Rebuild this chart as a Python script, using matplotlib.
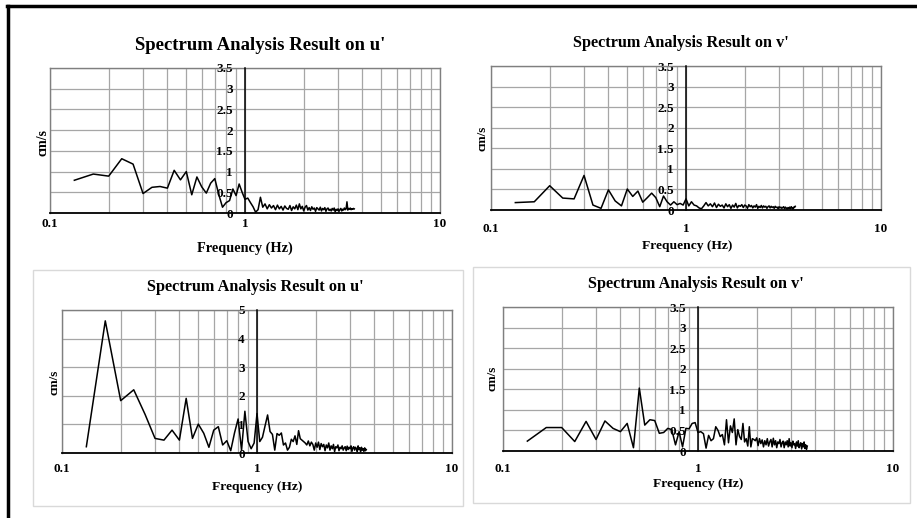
import matplotlib
matplotlib.use("Agg")
import matplotlib.pyplot as plt
import numpy as np
from matplotlib.lines import Line2D
from matplotlib.patches import Rectangle
from matplotlib.ticker import LogLocator, NullFormatter, FuncFormatter

plt.rcParams['font.family'] = ['Liberation Serif', 'DejaVu Serif']
plt.rcParams['font.weight'] = 'bold'

# frequencies of the spectrum bins (Hz)
freq = [0.1333, 0.1667, 0.2, 0.2333, 0.2667, 0.3, 0.3333, 0.3667, 0.4, 0.4333,
        0.4667, 0.5, 0.5333, 0.5667, 0.6, 0.6333, 0.6667, 0.7, 0.7333, 0.7667,
        0.8, 0.8333, 0.8667, 0.9, 0.9333, 0.9667, 1.0, 1.0333, 1.0667, 1.1,
        1.1333, 1.1667, 1.2, 1.2333, 1.2667, 1.3, 1.3333, 1.3667, 1.4, 1.4333,
        1.4667, 1.5, 1.5333, 1.5667, 1.6, 1.6333, 1.6667, 1.7, 1.7333, 1.7667,
        1.8, 1.8333, 1.8667, 1.9, 1.9333, 1.9667, 2.0, 2.0333, 2.0667, 2.1,
        2.1333, 2.1667, 2.2, 2.2333, 2.2667, 2.3, 2.3333, 2.3667, 2.4, 2.4333,
        2.4667, 2.5, 2.5333, 2.5667, 2.6, 2.6333, 2.6667, 2.7, 2.7333, 2.7667,
        2.8, 2.8333, 2.8667, 2.9, 2.9333, 2.9667, 3.0, 3.0333, 3.0667, 3.1,
        3.1333, 3.1667, 3.2, 3.2333, 3.2667, 3.3, 3.3333, 3.3667, 3.4, 3.4333,
        3.4667, 3.5, 3.5333, 3.5667, 3.6, 3.6333]

# top left: u'
u_top = [0.79, 0.94, 0.89, 1.31, 1.18, 0.47, 0.62, 0.64, 0.60, 1.03,
         0.80, 1.00, 0.44, 0.87, 0.63, 0.48, 0.72, 0.83, 0.45, 0.14,
         0.25, 0.30, 0.58, 0.42, 0.70, 0.50, 0.33, 0.36, 0.25, 0.15,
         0.02, 0.08, 0.38, 0.14, 0.22, 0.10, 0.20, 0.12, 0.18, 0.08,
         0.19, 0.10, 0.16, 0.07, 0.17, 0.11, 0.09, 0.18, 0.06, 0.15,
         0.10, 0.19, 0.08, 0.22, 0.10, 0.16, 0.05, 0.14, 0.18, 0.07,
         0.13, 0.06, 0.15, 0.09, 0.12, 0.04, 0.13, 0.10, 0.07, 0.14,
         0.05, 0.11, 0.08, 0.13, 0.04, 0.10, 0.12, 0.06, 0.09, 0.05,
         0.11, 0.07, 0.12, 0.03, 0.09, 0.06, 0.10, 0.04, 0.08, 0.11,
         0.05, 0.09, 0.07, 0.12, 0.08, 0.10, 0.27, 0.07, 0.11, 0.09,
         0.12, 0.08, 0.10, 0.09, 0.11, 0.10]

# top right: v'
v_top = [0.18, 0.20, 0.59, 0.29, 0.27, 0.84, 0.12, 0.04, 0.49, 0.22,
         0.10, 0.51, 0.33, 0.46, 0.19, 0.30, 0.41, 0.30, 0.08, 0.34,
         0.20, 0.12, 0.20, 0.13, 0.16, 0.12, 0.27, 0.10, 0.20, 0.12,
         0.10, 0.05, 0.03, 0.10, 0.18, 0.10, 0.15, 0.08, 0.17, 0.06,
         0.14, 0.09, 0.12, 0.05, 0.15, 0.08, 0.13, 0.04, 0.12, 0.07,
         0.16, 0.05, 0.11, 0.09, 0.13, 0.06, 0.12, 0.10, 0.04, 0.13,
         0.08, 0.11, 0.05, 0.10, 0.07, 0.13, 0.04, 0.09, 0.06, 0.11,
         0.05, 0.10, 0.07, 0.09, 0.04, 0.08, 0.10, 0.05, 0.09, 0.06,
         0.08, 0.04, 0.09, 0.06, 0.07, 0.03, 0.08, 0.05, 0.07, 0.04,
         0.06, 0.08, 0.03, 0.07, 0.05, 0.02, 0.06, 0.04, 0.07, 0.03,
         0.08, 0.05, 0.02, 0.07, 0.06, 0.09]

# bottom left: u'
u_bot = [0.22, 4.62, 1.83, 2.21, 1.35, 0.51, 0.45, 0.80, 0.45, 1.91,
         0.51, 1.01, 0.69, 0.20, 0.80, 0.92, 0.28, 0.43, 0.08, 0.70,
         1.19, 0.10, 1.46, 0.40, 0.15, 0.35, 1.38, 0.40, 0.55, 0.95,
         1.33, 0.75, 0.65, 0.10, 0.68, 0.62, 0.70, 0.28, 0.35, 0.10,
         0.20, 0.48, 0.40, 0.60, 0.30, 0.78, 0.50, 0.45, 0.40, 0.35,
         0.28, 0.42, 0.25, 0.38, 0.30, 0.10, 0.35, 0.20, 0.38, 0.12,
         0.33, 0.22, 0.30, 0.08, 0.28, 0.18, 0.35, 0.10, 0.25, 0.15,
         0.30, 0.05, 0.22, 0.18, 0.28, 0.08, 0.20, 0.15, 0.25, 0.10,
         0.18, 0.22, 0.08, 0.24, 0.12, 0.20, 0.15, 0.25, 0.06, 0.18,
         0.22, 0.10, 0.20, 0.15, 0.05, 0.25, 0.12, 0.18, 0.04, 0.20,
         0.10, 0.15, 0.06, 0.18, 0.08, 0.12]

# bottom right: v'
v_bot = [0.24, 0.57, 0.57, 0.23, 0.72, 0.28, 0.73, 0.55, 0.47, 0.67,
         0.08, 1.53, 0.63, 0.76, 0.74, 0.43, 0.45, 0.55, 0.52, 0.15,
         0.47, 0.10, 0.55, 0.54, 0.67, 0.69, 0.45, 0.47, 0.42, 0.07,
         0.38, 0.25, 0.30, 0.59, 0.50, 0.35, 0.40, 0.15, 0.76, 0.20,
         0.61, 0.45, 0.78, 0.15, 0.52, 0.35, 0.28, 0.67, 0.22, 0.30,
         0.12, 0.59, 0.10, 0.30, 0.28, 0.25, 0.32, 0.13, 0.30, 0.18,
         0.27, 0.10, 0.25, 0.15, 0.30, 0.12, 0.22, 0.28, 0.10, 0.31,
         0.15, 0.25, 0.08, 0.22, 0.18, 0.28, 0.10, 0.20, 0.24, 0.08,
         0.22, 0.15, 0.25, 0.10, 0.30, 0.12, 0.20, 0.08, 0.24, 0.15,
         0.18, 0.06, 0.22, 0.12, 0.25, 0.08, 0.15, 0.20, 0.05, 0.18,
         0.10, 0.22, 0.06, 0.15, 0.04, 0.12]

titles = ["Spectrum Analysis Result on u'", "Spectrum Analysis Result on v'",
          "Spectrum Analysis Result on u'", "Spectrum Analysis Result on v'"]
series = [u_top, v_top, u_bot, v_bot]
y_max = [3.5, 3.5, 5, 3.5]
y_step = [0.5, 0.5, 1, 0.5]
x_ticks = [0.1, 1, 10]
x_tick_labels = ['0.1', '1', '10']

W, H = 917, 518
fig = plt.figure(figsize=(W / 100, H / 100), dpi=100)

# layout in pixels: plot box (left, top, right, bottom), title xy, xlabel xy, ylabel xy,
# x tick label pad, title size, label size
layout = [
    dict(box=(50, 68, 440, 213), title=(260, 46), xl=(245, 248), yl=(43, 142), pad=5, ts=13.5, ls=10.3),
    dict(box=(491, 66, 881, 210), title=(681, 43), xl=(687, 246), yl=(483, 138), pad=13, ts=11.7, ls=9.7),
    dict(box=(62, 310, 452, 453), title=(255, 287), xl=(257, 487), yl=(54, 382), pad=10, ts=11.7, ls=9.7),
    dict(box=(503, 307, 893, 451), title=(696, 284), xl=(698, 484), yl=(493, 378), pad=12, ts=11.7, ls=9.7),
]

# frame of the page and boxes of the lower charts
fig.add_artist(Line2D([7 / W, 1], [1 - 6 / H, 1 - 6 / H], color='black', lw=2.5,
                      transform=fig.transFigure))
fig.add_artist(Line2D([7.5 / W, 7.5 / W], [0, 1 - 6 / H], color='black', lw=2.5,
                      transform=fig.transFigure))
for (x0, y0, x1, y1) in [(33, 270, 463, 506), (473, 267, 910, 503)]:
    fig.add_artist(Rectangle((x0 / W, 1 - y1 / H), (x1 - x0) / W, (y1 - y0) / H,
                             fill=False, edgecolor='#d9d9d9', lw=1, transform=fig.transFigure))

for i in range(4):
    L = layout[i]
    l, t, r, b = L['box']
    ax = fig.add_axes([l / W, 1 - b / H, (r - l) / W, (b - t) / H])
    ax.plot(freq, series[i], color='black', lw=1.1, zorder=3)
    ax.set_xscale('log')
    ax.set_xlim(0.1, 10)
    ax.set_ylim(0, y_max[i])
    ax.set_xticks(x_ticks)
    ax.set_xticklabels(x_tick_labels)
    ax.xaxis.set_minor_locator(LogLocator(base=10, subs=np.arange(2, 10)))
    ax.xaxis.set_minor_formatter(NullFormatter())
    ax.set_yticks(np.arange(0, y_max[i] + y_step[i] / 2, y_step[i]))
    ax.yaxis.set_major_formatter(FuncFormatter(lambda v, p: '%g' % v))
    ax.grid(which='both', color='#a6a6a6', lw=0.9, zorder=0)
    ax.set_axisbelow(True)
    ax.tick_params(which='both', length=0)
    ax.tick_params(axis='x', labelsize=9.5, pad=L['pad'] * 0.72)
    ax.tick_params(axis='y', labelsize=9.5, pad=12 * 0.72)
    ax.spines['left'].set_position(('data', 1))
    ax.spines['left'].set_color('black')
    ax.spines['left'].set_linewidth(1.1)
    ax.spines['left'].set_zorder(4)
    ax.spines['bottom'].set_color('black')
    ax.spines['bottom'].set_linewidth(1.3)
    for s in ['top', 'right']:
        ax.spines[s].set_color('#7f7f7f')
        ax.spines[s].set_linewidth(1.0)
    ax.plot([0, 0], [0, 1], transform=ax.transAxes, color='#7f7f7f', lw=1.0, clip_on=False)

    fig.text(L['title'][0] / W, 1 - L['title'][1] / H, titles[i], fontsize=L['ts'],
             fontweight='bold', ha='center', va='center')
    fig.text(L['xl'][0] / W, 1 - L['xl'][1] / H, 'Frequency (Hz)', fontsize=L['ls'],
             fontweight='bold', ha='center', va='center')
    fig.text(L['yl'][0] / W, 1 - L['yl'][1] / H, 'cm/s', fontsize=L['ls'] - 0.3,
             fontweight='bold', ha='center', va='center', rotation=90)

fig.savefig('out.png', dpi=100)
